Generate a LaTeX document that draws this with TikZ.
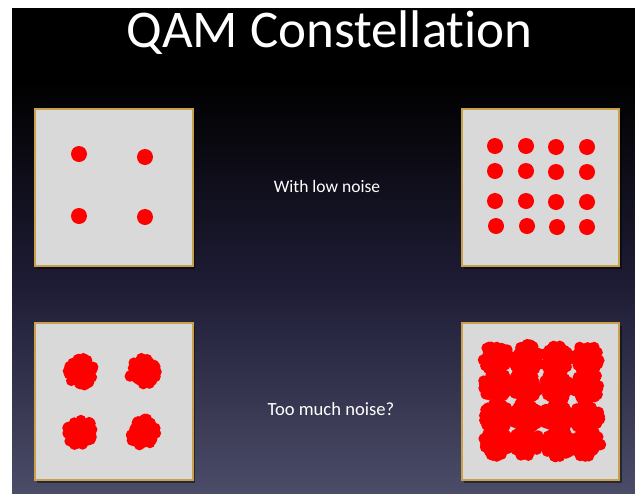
\documentclass[tikz,border=0pt]{standalone}
\usepackage{fontspec}
\setmainfont{Carlito}[RawFeature={-liga;-clig;-calt;-dlig}]
\definecolor{bgbot}{HTML}{4B4C68}
\definecolor{bgmid}{HTML}{1F1D36}
\definecolor{bgtop}{HTML}{000000}
\definecolor{boxfill}{HTML}{D9D9D9}
\definecolor{boxedge}{HTML}{C9A14A}
\definecolor{dotred}{HTML}{FF0000}
\pgfdeclareverticalshading{slidebg}{100bp}{color(0bp)=(bgbot); color(25bp)=(bgbot); color(46bp)=(bgmid); color(67.6bp)=(bgtop); color(100bp)=(bgtop)}
\tikzset{
  panel/.style={fill=boxfill, draw=boxedge, line width=1.2pt},
  panelshadow/.style={fill=black, opacity=0.45},
  dot/.style={fill=dotred, draw=none},
  slidetext/.style={text=white, anchor=base, inner sep=0pt},
}
\newcommand{\noisyblob}[2]{%
  \fill[dotred] (#1,#2) circle (14);
  \foreach \k in {1,...,26}{%
    \pgfmathsetmacro{\rr}{10.5+3.6*rnd}%
    \pgfmathsetmacro{\aa}{360*rnd}%
    \fill[dotred] ($(#1,#2)+(\aa:\rr)$) circle (5.4);
  }%
}
\usetikzlibrary{calc}
\begin{document}
\begin{tikzpicture}[x=1pt,y=-1pt]
\pgfmathsetseed{7}
\useasboundingbox (0,0) rectangle (635,493);
\fill[white] (0,0) rectangle (635,493);
\shade[shading=slidebg] (12,8) rectangle (635,493);

\node[slidetext, font=\fontsize{53}{60}\selectfont] (title) at (329.5,47) {QAM Constellation};
\node[slidetext, font=\fontsize{17.5}{20}\selectfont] (low) at (327,192) {With low noise};
\node[slidetext, font=\fontsize{18.6}{21}\selectfont] (much) at (331,415) {Too much noise?};

% panels with shadows
\foreach \x/\y in {35/109, 462/109, 35/323, 462/323}{
  \fill[panelshadow] (\x+2,\y+3) rectangle (\x+160,\y+160);
}
\draw[panel] (35,109) rectangle (193,266) node[pos=0.5] (p1) {};
\draw[panel] (462,109) rectangle (619,266) node[pos=0.5] (p2) {};
\draw[panel] (35,323) rectangle (193,480) node[pos=0.5] (p3) {};
\draw[panel] (462,323) rectangle (619,480) node[pos=0.5] (p4) {};

% 4-QAM low noise
\foreach \x/\y in {79/154, 145/157, 79/216, 145/217}{
  \fill[dot] (\x,\y) circle (8);
}
% 16-QAM low noise
\foreach \x/\y in {495/146, 526/146, 556/147, 587/147,
                   495/171, 526/171, 556/172, 587/172,
                   495/201, 526/201, 556/202, 587/202,
                   496/226, 527/226, 557/227, 587/227}{
  \fill[dot] (\x,\y) circle (8);
}
% 4-QAM noisy
\noisyblob{80}{372}
\noisyblob{143}{372}
\noisyblob{80}{432}
\noisyblob{143}{432}
% 16-QAM noisy
\foreach \x/\y in {496/358, 526/358, 557/359, 587/359,
                   496/385, 526/385, 557/386, 587/386,
                   496/416, 526/416, 557/417, 587/417,
                   497/443, 527/443, 558/444, 587/444}{
  \noisyblob{\x}{\y}
}
\end{tikzpicture}
\end{document}
